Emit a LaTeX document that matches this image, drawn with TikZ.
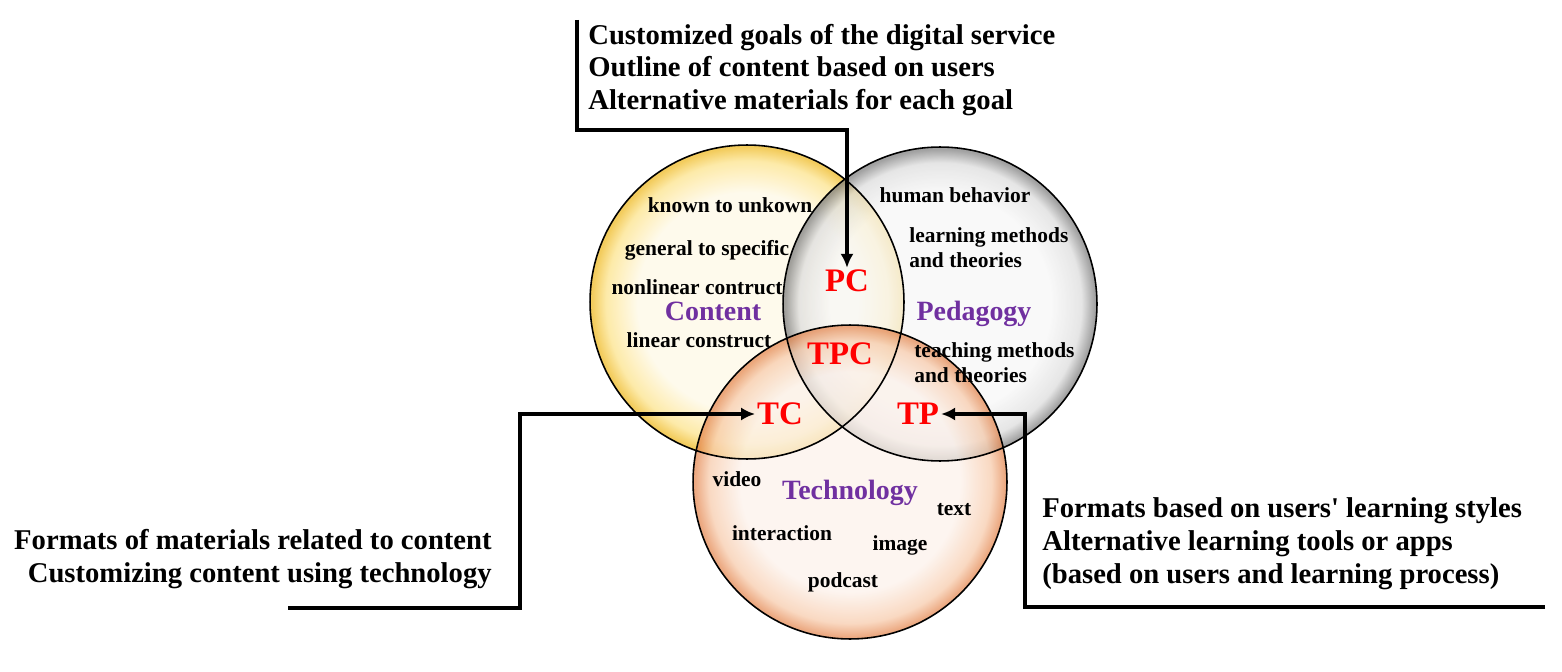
\documentclass[tikz,border=0pt]{standalone}
\usepackage{fontspec}
\setmainfont{Liberation Serif}
\usetikzlibrary{arrows.meta}

\definecolor{areapurple}{RGB}{112,48,160}
\definecolor{contentin}{RGB}{254,248,228}
\definecolor{contentmid}{RGB}{252,226,135}
\definecolor{contentrim}{RGB}{238,184,30}
\definecolor{pedin}{RGB}{247,247,247}
\definecolor{pedmid}{RGB}{220,220,220}
\definecolor{pedrim}{RGB}{125,125,125}
\definecolor{techin}{RGB}{252,241,234}
\definecolor{techmid}{RGB}{247,202,170}
\definecolor{techrim}{RGB}{228,135,80}

\pgfdeclareradialshading{contentball}{\pgfpoint{0bp}{0bp}}{color(0bp)=(contentin); color(17.5bp)=(contentin); color(22.5bp)=(contentmid); color(24.7bp)=(contentrim); color(50bp)=(contentrim)}
\pgfdeclareradialshading{pedball}{\pgfpoint{0bp}{0bp}}{color(0bp)=(pedin); color(17.5bp)=(pedin); color(22.5bp)=(pedmid); color(24.7bp)=(pedrim); color(50bp)=(pedrim)}
\pgfdeclareradialshading{techball}{\pgfpoint{0bp}{0bp}}{color(0bp)=(techin); color(17.5bp)=(techin); color(22.5bp)=(techmid); color(24.7bp)=(techrim); color(50bp)=(techrim)}

\begin{document}
\begin{tikzpicture}[x=0.02cm,y=-0.02cm,
  ball/.style={fill opacity=0.72},
  rim/.style={draw=black,line width=0.9pt},
  conn/.style={line width=1.8pt,-{Latex[length=8pt,width=7.5pt]}},
  note/.style={font=\bfseries\fontsize{16.3}{18.7}\selectfont,inner sep=0pt},
  item/.style={font=\bfseries\fontsize{12.2}{14.2}\selectfont,inner sep=0pt},
  area/.style={font=\bfseries\fontsize{15.9}{18}\selectfont,text=areapurple,inner sep=0pt},
  zone/.style={font=\bfseries\fontsize{18.7}{20}\selectfont,text=red,inner sep=1pt}]
\useasboundingbox (0,0) rectangle (1562,672);

% the three circles
\coordinate (cc) at (747,302);
\coordinate (pc0) at (940,304);
\coordinate (tc0) at (850,482);
\shade[ball,shading=contentball] (cc) circle [radius=3.14cm];
\shade[ball,shading=pedball] (pc0) circle [radius=3.14cm];
\shade[ball,shading=techball] (tc0) circle [radius=3.14cm];
\foreach \c in {cc,pc0,tc0}
  \draw[rim] (\c) circle [radius=3.14cm];

% content
\node[item] (known) at (730,205) {known to unkown};
\node[item] (general) at (707,250) {general to specific};
\node[item] (nonlin) at (697,287) {nonlinear contruct};
\node[area] (content) at (713,311) {Content};
\node[item] (linear) at (699,340) {linear construct};

% pedagogy
\node[item] (human) at (955,195) {human behavior};
\node[item,anchor=west,align=left] (learning) at (909,248) {learning methods\\and theories};
\node[area] (pedagogy) at (974,314) {Pedagogy};
\node[item,anchor=west,align=left] (teaching) at (914,363) {teaching methods\\and theories};

% technology
\node[item] (video) at (737,479) {video};
\node[area] (technology) at (850,493) {Technology};
\node[item] (text) at (954,510) {text};
\node[item] (interaction) at (782,533) {interaction};
\node[item] (image) at (900,545) {image};
\node[item] (podcast) at (843,582) {podcast};

% overlaps
\node[zone] (pc) at (847,281) {PC};
\node[zone] (tpc) at (840,354) {TPC};
\node[zone] (tc) at (780,414) {TC};
\node[zone] (tp) at (918,414) {TP};

% notes
\node[note,anchor=west,align=left] (goals) at (588,70)
  {Customized goals of the digital service\\Outline of content based on users\\Alternative materials for each goal};
\node[note,anchor=east,align=right] (formats) at (492,559)
  {Formats of materials related to content\\Customizing content using technology};
\node[note,anchor=west,align=left] (styles) at (1042,544)
  {Formats based on users\textquotesingle{} learning styles\\Alternative learning tools or apps\\(based on users and learning process)};

% connectors
\coordinate (pcstart) at (577,20);
\coordinate (pcbend) at (577,130);
\draw[conn] (pcstart) -- (pcbend) -| (pc.north);
\coordinate (tcstart) at (288,608);
\coordinate (tcbend) at (520,608);
\draw[conn] (tcstart) -- (tcbend) |- (tc.west);
\coordinate (tpstart) at (1545,607);
\coordinate (tpbend) at (1025,607);
\draw[conn] (tpstart) -- (tpbend) |- (tp.east);
\end{tikzpicture}
\end{document}
